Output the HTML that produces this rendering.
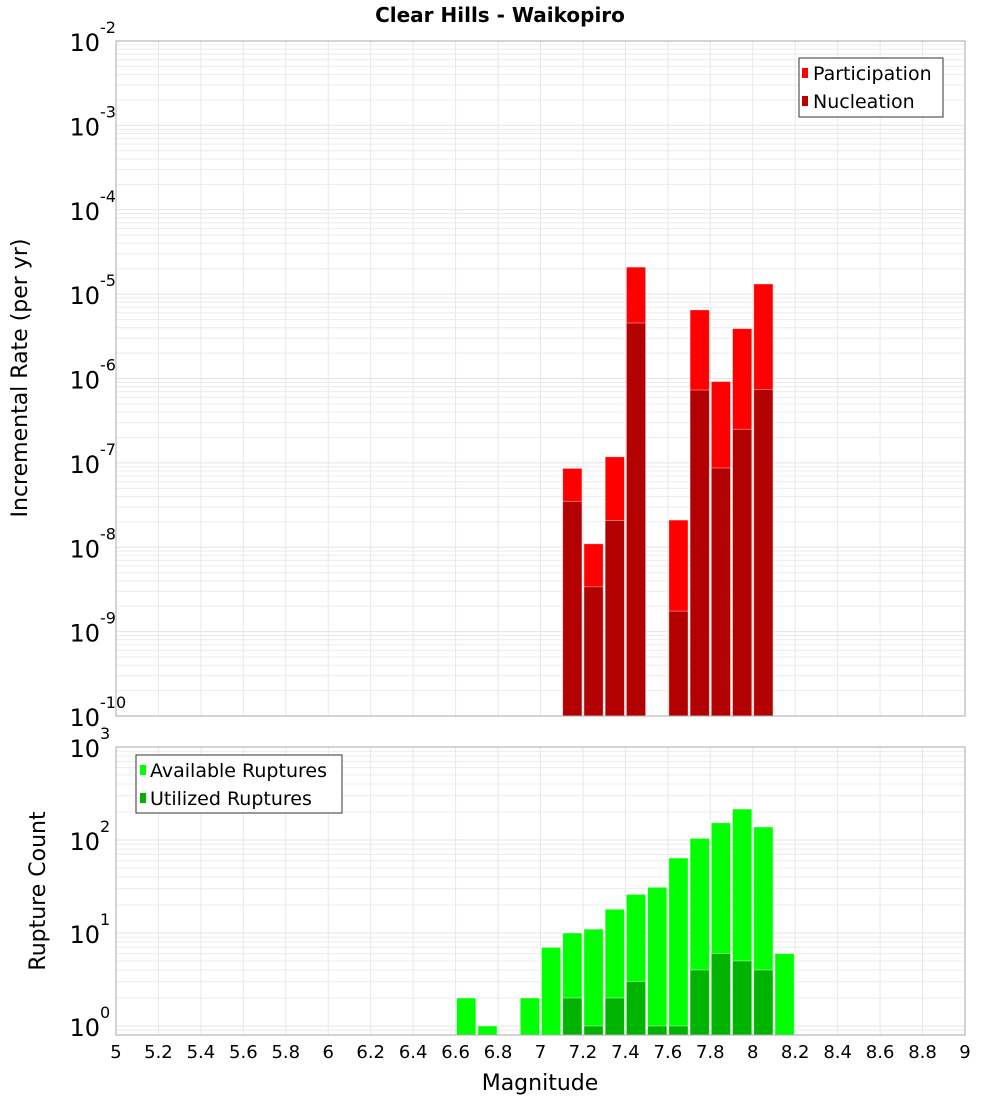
<!DOCTYPE html>
<html><head><meta charset="utf-8"><style>
body{margin:0;background:#fff}
svg{display:block;font-family:"DejaVu Sans","Liberation Sans",sans-serif}
</style></head><body>
<svg id="c" width="1000" height="1100" xmlns="http://www.w3.org/2000/svg">
<text x="500" y="22" text-anchor="middle" font-size="20" font-weight="bold">Clear Hills - Waikopiro</text>
<g id="top"></g>
<g id="bot"></g>
<text transform="translate(27,378) rotate(-90)" text-anchor="middle" font-size="22">Incremental Rate (per yr)</text>
<text transform="translate(45,891) rotate(-90)" text-anchor="middle" font-size="22">Rupture Count</text>
<text x="540" y="1090" text-anchor="middle" font-size="22">Magnitude</text>
</svg>
<script>
const mags = [6.6,6.7,6.9,7.0,7.1,7.2,7.3,7.4,7.5,7.6,7.7,7.8,7.9,8.0,8.1];
const available = [2,1,2,7,10,11,18,26,31,64,104,153,215,138,6];
const utilized = [0,0,0,0,2,1,2,3,1,1,4,6,5,4,0];
const rateMags = [7.1,7.2,7.3,7.4,7.6,7.7,7.8,7.9,8.0];
const participation = [8.6e-8,1.1e-8,1.18e-7,2.09e-5,2.1e-8,6.5e-6,9.2e-7,3.9e-6,1.32e-5];
const nucleation = [3.5e-8,3.4e-9,2.07e-8,4.55e-6,1.75e-9,7.3e-7,8.7e-8,2.5e-7,7.4e-7];
const xTicks = [5,5.2,5.4,5.6,5.8,6,6.2,6.4,6.6,6.8,7,7.2,7.4,7.6,7.8,8,8.2,8.4,8.6,8.8,9];

const NS='http://www.w3.org/2000/svg';
const X0=116,X1=965;
const x=m=>X0+(m-5)/4*(X1-X0);
const yT=v=>41+(-2-Math.log10(v))*84.375;
const yB=v=>747+(3-Math.log10(v))*93;
function mk(p,tag,a,txt){const e=document.createElementNS(NS,tag);for(const k in a)e.setAttribute(k,a[k]);if(txt!==undefined)e.textContent=txt;p.appendChild(e);return e;}
function grid(g,top,bot,lo,hi,yf){
  for(let d=lo;d<hi;d++)for(let k=2;k<=9;k++){const yy=yf(k*Math.pow(10,d));if(yy>top&&yy<bot){const l=mk(g,'line',{x1:X0,x2:X1,y1:yy,y2:yy,stroke:'#ececec'});}}
  for(let d=lo;d<=hi;d++){const yy=yf(Math.pow(10,d));if(yy>=top&&yy<=bot){const l=mk(g,'line',{x1:X0,x2:X1,y1:yy,y2:yy,stroke:'#e4e4e4'});}}
  xTicks.forEach(t=>{const l=mk(g,'line',{x1:x(t),x2:x(t),y1:top,y2:bot,stroke:'#e8e8e8'});});
}
function ylab(g,d,yy,name){
  const t=mk(g,'text',{x:100,y:yy+10,'text-anchor':'end','font-size':24},'10');
  
  const s=mk(g,'text',{x:100,y:yy-8,'font-size':16},String(d));
  
}
function bar(g,m,v,yf,base,fill,name){
  const xl=x(m)+1,xr=x(m+0.1)-1,yy=yf(v);
  const r=mk(g,'rect',{x:xl,y:yy,width:xr-xl,height:base-yy,fill:fill,stroke:'#fff','stroke-opacity':0.5,'stroke-width':0.8});
  
}
// top plot
const gt=document.getElementById('top');
grid(gt,41,716,-10,-2,yT);
rateMags.forEach((m,i)=>bar(gt,m,participation[i],yT,716,'#ff0000','participation-bar'));
rateMags.forEach((m,i)=>bar(gt,m,nucleation[i],yT,716,'#b30000','nucleation-bar'));
let f=mk(gt,'rect',{x:X0,y:41,width:X1-X0,height:675,fill:'none',stroke:'#aaa'});

for(let d=-10;d<=-2;d++)ylab(gt,d,yT(Math.pow(10,d)),'top-y-tick-label');
// legend top
const lt=mk(gt,'g',{});
mk(lt,'rect',{x:799,y:58,width:144,height:59,fill:'#fff',stroke:'#333'});
mk(lt,'rect',{x:802,y:68,width:6,height:10,fill:'#ff0000'});
mk(lt,'text',{x:813,y:80,'font-size':19},'Participation');
mk(lt,'rect',{x:802,y:96,width:6,height:10,fill:'#b30000'});
mk(lt,'text',{x:813,y:108,'font-size':19},'Nucleation');
// bottom plot
const gb=document.getElementById('bot');
grid(gb,747,1035,-1,3,yB);
mags.forEach((m,i)=>bar(gb,m,available[i],yB,1035,'#00ff00','available-bar'));
mags.forEach((m,i)=>{if(utilized[i]>0)bar(gb,m,utilized[i],yB,1035,'#00b300','utilized-bar');});
f=mk(gb,'rect',{x:X0,y:747,width:X1-X0,height:288,fill:'none',stroke:'#aaa'});

for(let d=0;d<=3;d++)ylab(gb,d,yB(Math.pow(10,d)),'bottom-y-tick-label');
const lb=mk(gb,'g',{});
mk(lb,'rect',{x:136,y:755,width:206,height:58,fill:'#fff',stroke:'#333'});
mk(lb,'rect',{x:140,y:765,width:6,height:10,fill:'#00ff00'});
mk(lb,'text',{x:150,y:777,'font-size':19},'Available Ruptures');
mk(lb,'rect',{x:140,y:793,width:6,height:10,fill:'#00b300'});
mk(lb,'text',{x:150,y:805,'font-size':19},'Utilized Ruptures');
// x tick labels
xTicks.forEach(t=>{const e=mk(gb,'text',{x:x(t),y:1058,'text-anchor':'middle','font-size':18},String(t));});
</script>
</body></html>
